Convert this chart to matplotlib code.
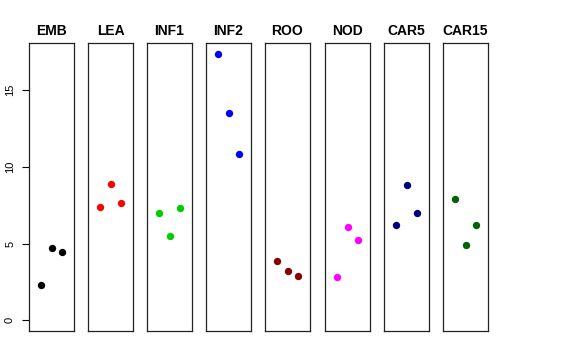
import matplotlib
matplotlib.use("Agg")
import matplotlib.pyplot as plt

# tissue groups and three replicate values each
groups = ["EMB", "LEA", "INF1", "INF2", "ROO", "NOD", "CAR5", "CAR15"]
values = [
    [2.29, 4.68, 4.48],
    [7.40, 8.85, 7.66],
    [6.99, 5.52, 7.34],
    [17.36, 13.50, 10.80],
    [3.85, 3.18, 2.90],
    [2.79, 6.10, 5.26],
    [6.19, 8.81, 7.01],
    [7.88, 4.92, 6.19],
]
colors = ["black", "#FF0000", "#00CD00", "#0000FF",
          "#8B0000", "#FF00FF", "#000080", "#006400"]
replicates = [1, 2, 3]
y_ticks = [0, 5, 10, 15]

plt.rcParams["font.family"] = ["Liberation Sans", "DejaVu Sans"]

W, H = 576, 360
fig = plt.figure(figsize=(W / 100, H / 100), dpi=100)

ymax = max(max(v) for v in values)
pad = ymax * 0.04
lefts = [29, 88, 147, 206, 265, 325, 384, 443]
for i, (name, vals, col) in enumerate(zip(groups, values, colors)):
    ax = fig.add_axes([lefts[i] / W, 1 - 331 / H, 45 / W, 288 / H])
    ax.scatter(replicates, vals, s=28, color=col, zorder=3, linewidths=0)
    ax.set_xlim(-0.16, 4.16)
    ax.set_ylim(-pad, ymax + pad)
    ax.set_xticks([])
    for sp in ax.spines.values():
        sp.set_color("#222222")
        sp.set_linewidth(0.9)
    ax.set_title(name, fontsize=10, fontweight="bold", pad=6)
    if i == 0:
        ax.set_yticks(y_ticks)
        ax.tick_params(axis="y", length=5, width=0.8, pad=5, labelsize=8)
        for lab in ax.get_yticklabels():
            lab.set_rotation(90)
            lab.set_va("center")
    else:
        ax.set_yticks([])

fig.savefig("out.png", dpi=100)
